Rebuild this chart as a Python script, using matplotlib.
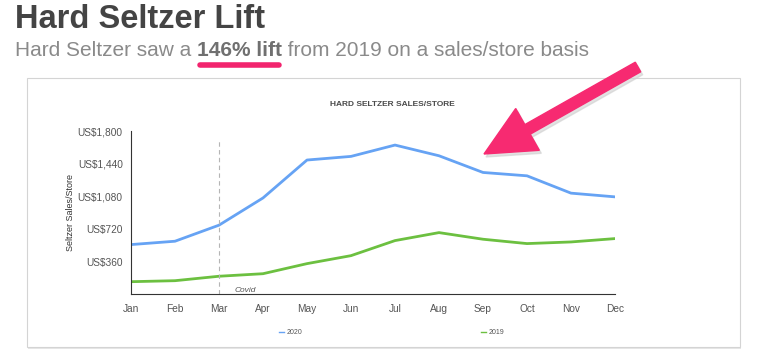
import matplotlib.pyplot as plt
from matplotlib.patches import Rectangle, FancyArrow
from matplotlib.lines import Line2D
from matplotlib.transforms import Affine2D

plt.rcParams['font.family'] = ['Liberation Sans', 'DejaVu Sans']

months = ["Jan", "Feb", "Mar", "Apr", "May", "Jun", "Jul", "Aug", "Sep", "Oct", "Nov", "Dec"]
sales_2020 = [548, 585, 762, 1062, 1480, 1520, 1645, 1527, 1343, 1306, 1115, 1074]
sales_2019 = [139, 150, 199, 227, 338, 426, 592, 680, 607, 559, 577, 614]
y_ticks = [360, 720, 1080, 1440, 1800]
y_tick_labels = ["US$360", "US$720", "US$1,080", "US$1,440", "US$1,800"]

W, H = 759, 364
fig = plt.figure(figsize=(W / 100, H / 100), dpi=100)


def fx(px):
    return px / W


def fy(py):
    return 1 - py / H


# heading
fig.text(fx(15), fy(20), "Hard Seltzer Lift", fontsize=23.5, fontweight="bold",
         color="#444444", va="center", ha="left")

# subtitle built from pieces
renderer = fig.canvas.get_renderer()
x = fx(15)
parts = [("Hard Seltzer saw a ", "normal", "#8a8a8a"),
         ("146% lift", "bold", "#707070"),
         (" from 2019 on a sales/store basis", "normal", "#8a8a8a")]
for txt, weight, col in parts:
    t = fig.text(x, fy(51), txt, fontsize=15, fontweight=weight, color=col,
                 va="center", ha="left")
    bb = t.get_window_extent(renderer)
    if weight == "bold":
        fig.add_artist(Line2D([bb.x0 / W + 0.004, bb.x1 / W - 0.004], [fy(65), fy(65)],
                              color="#f2246e", lw=4, solid_capstyle="round"))
    x = bb.x1 / W

# card with soft shadow
fig.add_artist(Rectangle((fx(28), fy(349)), fx(741) - fx(28), fy(80) - fy(349),
                         facecolor="#e6e6e6", edgecolor="none", zorder=0))
fig.add_artist(Rectangle((fx(27), fy(347)), fx(740) - fx(27), fy(78) - fy(347),
                         facecolor="white", edgecolor="#d4d4d4", lw=0.8, zorder=0.5))

fig.text(fx(392), fy(104), "HARD SELTZER SALES/STORE", fontsize=6, fontweight="bold",
         color="#4a4a4a", ha="center", va="center")

ax = fig.add_axes([fx(131), fy(294.3), fx(615) - fx(131), fy(131) - fy(294.3)])
ax.set_zorder(2)
ax.set_facecolor("none")
xs = list(range(len(months)))
ax.plot(xs, sales_2020, color="#66a3f4", lw=2, label="2020")
ax.plot(xs, sales_2019, color="#6cc040", lw=2, label="2019")
ax.axvline(2, ymin=0, ymax=0.94, color="#b5b5b5", lw=0.8, ls=(0, (4, 3)))
ax.text(2.35, 40, "Covid", fontsize=6, style="italic", color="#555555", ha="left", va="center")

ax.set_xlim(0, 11)
ax.set_ylim(0, 1800)
ax.set_xticks(xs)
ax.set_xticklabels(months)
ax.set_yticks(y_ticks)
ax.set_yticklabels(y_tick_labels)
ax.tick_params(axis="both", length=0, labelsize=7.3, colors="#555555")
ax.tick_params(axis="x", pad=7)
ax.tick_params(axis="y", pad=6)
for s in ["top", "right"]:
    ax.spines[s].set_visible(False)
for s in ["left", "bottom"]:
    ax.spines[s].set_color("#333333")
    ax.spines[s].set_linewidth(0.8)
ax.set_ylabel("Seltzer Sales/Store", fontsize=6.5, color="#333333", labelpad=2)

# legend entries
for px, lab, col in [(285, "2020", "#66a3f4"), (487, "2019", "#6cc040")]:
    fig.add_artist(Line2D([fx(px - 6), fx(px - 1)], [fy(332), fy(332)], color=col, lw=1))
    fig.text(fx(px + 2), fy(332), lab, fontsize=5, color="#555555", ha="left", va="center")

# pink arrow, drawn in pixel units (origin bottom-left)
pix = Affine2D().scale(1 / W, 1 / H) + fig.transFigure
tail = (638, H - 67)
tip = (484, H - 154)
dx, dy = tip[0] - tail[0], tip[1] - tail[1]
shadow = FancyArrow(tail[0] + 2, tail[1] - 3, dx, dy, width=11,
                    head_width=48, head_length=50, length_includes_head=True,
                    color="#cfcfcf", alpha=0.6, transform=pix, zorder=5)
fig.add_artist(shadow)
arrow = FancyArrow(tail[0], tail[1], dx, dy, width=11,
                   head_width=48, head_length=50, length_includes_head=True,
                   color="#f72a71", transform=pix, zorder=6)
fig.add_artist(arrow)

fig.savefig("out.png", dpi=100)
